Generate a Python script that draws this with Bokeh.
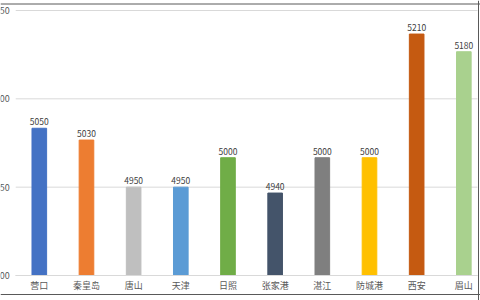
from bokeh.plotting import figure
from bokeh.models import Range1d, LinearAxis, FixedTicker, ColumnDataSource, Span
from bokeh.core.properties import value
from bokeh.embed import file_html
from bokeh.resources import INLINE

cities = ["营口", "秦皇岛", "唐山", "天津", "日照", "张家港", "湛江", "防城港", "西安", "眉山"]
prices = [5050, 5030, 4950, 4950, 5000, 4940, 5000, 5000, 5210, 5180]
colors = ["#4472C4", "#ED7D31", "#BFBFBF", "#5B9BD5", "#70AD47",
          "#44546A", "#7F7F7F", "#FFC000", "#C55A11", "#A9D18E"]
y_ticks = [4800, 4950, 5100, 5250]

W, H = 480, 300
px_per_cat = 47.17
px_per_unit = 265 / 450.0
x_start = -38.8 / px_per_cat
x_end = x_start + W / px_per_cat
y_base = y_ticks[0]
y_start = y_base - 25 / px_per_unit
y_end = y_start + H / px_per_unit

def px_to_x(px):
    return x_start + px / px_per_cat

def py_to_y(py):
    return y_end - py / px_per_unit

FONT = "Noto Sans CJK SC"

p = figure(width=W, height=H, output_backend="svg", toolbar_location=None,
           x_range=Range1d(x_start, x_end), y_range=Range1d(y_start, y_end),
           x_axis_location=None, y_axis_location=None, min_border=0,
           background_fill_color="white", border_fill_color="white")
p.outline_line_color = None
p.xgrid.visible = False
p.ygrid.visible = False

xs = list(range(len(cities)))
src = ColumnDataSource(dict(x=xs, top=prices, color=colors,
                            label=[str(v) for v in prices]))

# gridlines (from tick values)
p.segment(x0=[-0.5] * len(y_ticks), x1=[px_to_x(477)] * len(y_ticks), y0=y_ticks, y1=y_ticks,
          line_color="#D9D9D9", line_width=1)

p.vbar(x="x", top="top", bottom=y_base, width=0.31, color="color", source=src)

p.text(x="x", y="top", text="label", source=src, text_align="center",
       text_baseline="bottom", y_offset=-3, text_font=value(FONT),
       text_font_size="8.5px", text_color="#404040")

# x axis at base value
xa = LinearAxis(fixed_location=y_base)
xa.ticker = FixedTicker(ticks=xs)
xa.major_label_overrides = {i: c for i, c in enumerate(cities)}
xa.bounds = (-0.5, px_to_x(477))
xa.axis_line_color = "#D9D9D9"
xa.major_tick_line_color = None
xa.minor_tick_line_color = None
xa.major_tick_out = 0
xa.major_tick_in = 0
xa.major_label_standoff = 3
xa.major_label_text_font = FONT
xa.major_label_text_font_size = "9px"
xa.major_label_text_color = "#595959"
p.add_layout(xa, "below")

# y axis, partly cropped on the left
ya = LinearAxis(fixed_location=-0.5)
ya.ticker = FixedTicker(ticks=y_ticks)
ya.axis_line_color = None
ya.major_tick_line_color = None
ya.minor_tick_line_color = None
ya.major_tick_out = 0
ya.major_tick_in = 0
ya.major_label_standoff = 6
ya.major_label_text_font = FONT
ya.major_label_text_font_size = "9px"
ya.major_label_text_color = "#595959"
p.add_layout(ya, "left")

# chart border (cropped on the left)
for loc, dim in [(py_to_y(3.5), "width"), (py_to_y(294), "width"), (px_to_x(478), "height")]:
    p.add_layout(Span(location=loc, dimension=dim, line_color="#595959", line_width=1))

open("out.html", "w").write(file_html(p, INLINE))
